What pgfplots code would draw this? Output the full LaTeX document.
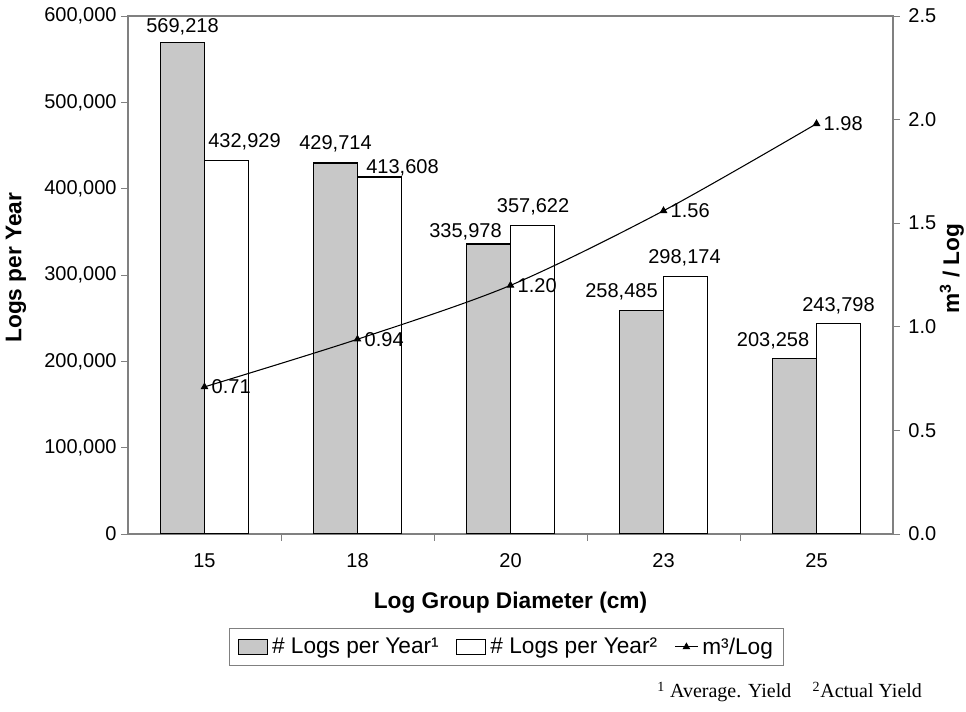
\documentclass[border=0pt]{standalone}
\usepackage{fontspec}
\setmainfont{Liberation Sans}
\newfontfamily\seriffont{Liberation Serif}
\usepackage{pgfplots}
\usepackage{pgfplotstable}
\pgfplotsset{compat=1.18}

\definecolor{barfill}{RGB}{200,200,200}
\definecolor{axisgray}{RGB}{128,128,128}

% logs per year by diameter class; dx/dy = label offsets (pt)
\pgfplotstableread{
x y dx dy
0 569218 0 7.5
1 429714 0 10.5
2 335978 -17.25 4.5
3 258485 -15 9.75
4 203258 -16.1 9
}\avgyield
\pgfplotstableread{
x y dx dy
0 432929 13.5 9.75
1 413608 17.25 2.25
2 357622 0.4 9.75
3 298174 -0.75 9.75
4 243798 0 9
}\actyield
% volume per log
\pgfplotstableread{
x v
0 0.71
1 0.94
2 1.20
3 1.56
4 1.98
}\volume

\newcommand\labelfont{\fontsize{15}{18}\selectfont}
\newcommand\titlefont{\fontsize{17}{20}\selectfont\bfseries}

\pgfplotsset{
  barlabels/.style={
    nodes near coords={\pgfmathprintnumber[fixed,precision=0,1000 sep={,},assume math mode=true]{\pgfplotspointmeta}},
    visualization depends on={\thisrow{dx} \as \dx},
    visualization depends on={\thisrow{dy} \as \dy},
    every node near coord/.append style={anchor=base, xshift=\dx pt, yshift=\dy pt, black, font=\labelfont},
  },
  swatch/.style={legend image code/.code={\draw[##1, line width=0.7pt] (0pt,-5.5pt) rectangle (22pt,5.5pt);}},
}

\begin{document}
\begin{tikzpicture}[font=\labelfont]
\useasboundingbox (0,0) rectangle (724.5pt,534pt);

\begin{axis}[
  at={(96pt,133.5pt)}, anchor=south west,
  scale only axis, width=573.75pt, height=388.5pt,
  xmin=-0.5, xmax=4.5, ymin=0, ymax=600000,
  ybar=0pt, bar width=33pt,
  xtick={0,1,2,3,4},
  xticklabels={\labelfont 15,\labelfont 18,\labelfont 20,\labelfont 23,\labelfont 25},
  minor xtick={0.5,1.5,2.5,3.5},
  major x tick style={draw=none},
  xtick pos=left, ytick pos=left,
  ytick={0,100000,200000,300000,400000,500000,600000},
  scaled y ticks=false,
  yticklabel={\labelfont\pgfmathprintnumber[fixed,precision=0,1000 sep={,},assume math mode=true]{\tick}},
  x tick label style={yshift=-6pt},
  tick align=outside,
  major tick length=5pt, minor tick length=5pt,
  tick style={axisgray, line width=0.6pt},
  axis line style={axisgray, line width=0.8pt},
  xlabel={\titlefont Log Group Diameter (cm)},
  ylabel={\titlefont Logs per Year},
  every axis x label/.style={at={(axis description cs:0.5,-0.132)}, anchor=center},
  every axis y label/.style={at={(axis description cs:-0.1464,0.514)}, anchor=center, rotate=90},
  legend columns=3,
  legend style={at={(axis description cs:0.495,-0.1815)}, anchor=north,
    draw=axisgray, line width=0.6pt, inner xsep=6pt, inner ysep=5pt,
    font=\fontsize{17}{20}\selectfont,
    /tikz/every odd column/.append style={column sep=1pt},
    /tikz/every even column/.append style={column sep=11pt}},
  legend cell align=left,
]
\addplot[fill=barfill, draw=black, line width=0.9pt, barlabels, swatch]
  table[x=x, y=y] {\avgyield};
\addlegendentry{\# Logs per Year¹}
\addplot[fill=white, draw=black, line width=0.9pt, barlabels, swatch]
  table[x=x, y=y] {\actyield};
\addlegendentry{\# Logs per Year²}
\addlegendimage{line legend, sharp plot, black, line width=0.8pt, mark=triangle*, mark size=2.6pt, mark options={solid}}
\addlegendentry{m³/Log}
\end{axis}

\begin{axis}[
  at={(96pt,133.5pt)}, anchor=south west,
  scale only axis, width=573.75pt, height=388.5pt,
  xmin=-0.5, xmax=4.5, ymin=0, ymax=2.5,
  axis y line*=right, axis x line=none,
  ytick={0,0.5,1,1.5,2,2.5},
  yticklabel={\labelfont\pgfmathprintnumber[fixed,fixed zerofill,precision=1,assume math mode=true]{\tick}},
  y tick label style={xshift=3pt},
  tick align=outside, major tick length=5pt,
  tick style={axisgray, line width=0.6pt},
  axis line style={axisgray, line width=0.8pt},
  ylabel={\titlefont m\textsuperscript{3} / Log},
  every axis y label/.style={at={(axis description cs:1.077,0.512)}, anchor=center, rotate=90},
]
\addplot[black, line width=0.8pt, smooth, mark=triangle*, mark size=2.6pt,
  nodes near coords={\pgfmathprintnumber[fixed,fixed zerofill,precision=2,assume math mode=true]{\pgfplotspointmeta}},
  every node near coord/.append style={anchor=west, xshift=5pt, inner sep=0pt, font=\labelfont}]
  table[x=x, y=v] {\volume};
\end{axis}

\node[anchor=base east, font=\seriffont\fontsize{15}{18}\selectfont]
  at (695pt,10.5pt) {\textsuperscript{1} Average. Yield\hspace{16pt}\textsuperscript{2}Actual Yield};
\end{tikzpicture}
\end{document}
